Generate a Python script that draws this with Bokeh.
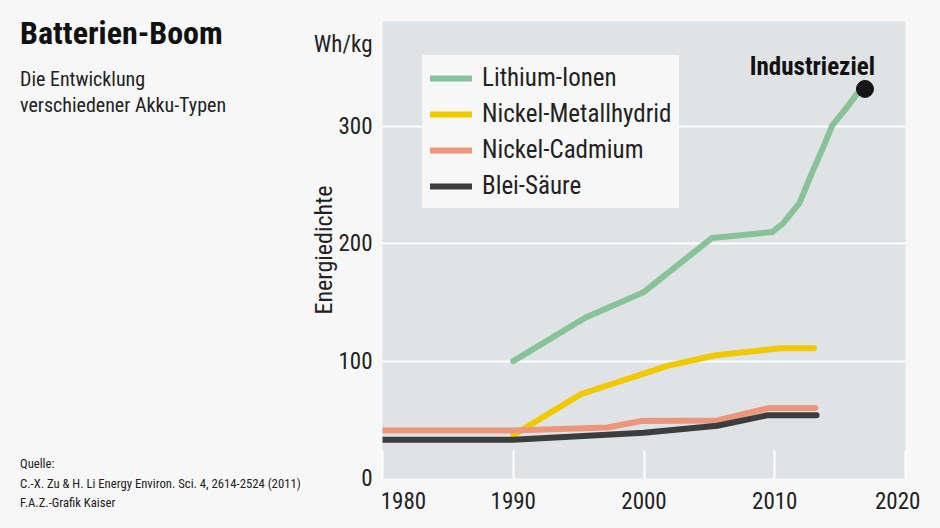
from bokeh.plotting import figure
from bokeh.models import Label, FixedTicker, Range1d, CustomJSTickFormatter, LinearAxis, Div
from bokeh.layouts import row
from bokeh.embed import file_html
from bokeh.resources import INLINE
import html as htmlmod

# ---------------- data ----------------
series_names = ["Lithium-Ionen", "Nickel-Metallhydrid", "Nickel-Cadmium", "Blei-Säure"]

li_years = [1990, 1995.5, 2000, 2005.2, 2009.8, 2010.6, 2011.9, 2012.9, 2013.7, 2014.4, 2015.5, 2016.3, 2016.9]
li_vals = [100, 137, 159, 205, 210, 217, 235, 262, 282, 301, 316, 328, 332]

nimh_years = [1990, 1995.2, 2001.8, 2005.5, 2010.4, 2013]
nimh_vals = [37, 72, 96, 105, 111, 111]

nicd_years = [1980, 1990, 1997.2, 1999.8, 2005.6, 2009.5, 2013.1]
nicd_vals = [41, 41, 43.5, 49, 49.5, 60, 60]

pb_years = [1980, 1990, 2000, 2005.6, 2009.5, 2013.2]
pb_vals = [33, 33, 39, 45, 54, 54]

target_year = [2016.9]
target_val = [332]

x_ticks = [1980, 1990, 2000, 2010, 2020]
y_ticks = [0, 100, 200, 300]

title_text = "Batterien-Boom"
subtitle_lines = ["Die Entwicklung", "verschiedener Akku-Typen"]
source_lines = ["Quelle:", "C.-X. Zu & H. Li Energy Environ. Sci. 4, 2614-2524 (2011)", "F.A.Z.-Grafik Kaiser"]
unit_text = "Wh/kg"
y_label_text = "Energiedichte"
target_text = "Industrieziel"

colors = ["#88c297", "#f1c900", "#ec977b", "#3d3d3d"]

FONT = "Roboto Condensed"
BG = "#f7f7f7"
PLOT_BG = "#e0e3e6"
TXT = "#222222"

W, H = 940, 528
TEXT_W = 300

# ---------------- left text panel (title, subtitle, source) ----------------
def text_block(text, left, baseline, size, weight="normal", color=TXT):
    top = baseline - 0.84 * size  # line-height 1 -> baseline sits ~0.84em below the top
    return ('<div style="position:absolute;left:%dpx;top:%.1fpx;font-family:\'%s\';'
            'font-size:%.1fpx;font-weight:%s;line-height:1;color:%s;white-space:nowrap">%s</div>'
            % (left, top, FONT, size, weight, color, htmlmod.escape(text)))

parts = [text_block(title_text, 20, 44, 32, "bold", "#111111")]
for i, line in enumerate(subtitle_lines):
    parts.append(text_block(line, 20, 86 + 26 * i, 20))
for i, line in enumerate(source_lines):
    parts.append(text_block(line, 20, 469 + 19.5 * i, 12.7))

left_panel = Div(text='<div style="position:relative;width:%dpx;height:%dpx;background:%s">%s</div>'
                 % (TEXT_W, H, BG, "".join(parts)),
                 width=TEXT_W, height=H, styles={"background-color": BG, "margin": "0", "padding": "0"})

# ---------------- main chart ----------------
p = figure(width=W - TEXT_W, height=H, output_backend="svg", toolbar_location=None,
           x_range=Range1d(1980, 2020), y_range=Range1d(0, 389.5),
           min_border_left=382 - TEXT_W, min_border_right=35, min_border_top=21, min_border_bottom=50)
p.background_fill_color = PLOT_BG
p.border_fill_color = BG
p.outline_line_color = None

p.xgrid.grid_line_color = None
p.ygrid.grid_line_color = "white"
p.ygrid.grid_line_width = 2
p.ygrid.ticker = FixedTicker(ticks=y_ticks)

# axis 1: short white tick marks reaching into the plot area, no labels
p.xaxis.ticker = FixedTicker(ticks=x_ticks)
p.xaxis.axis_line_color = None
p.xaxis.major_tick_in = 28
p.xaxis.major_tick_out = 0
p.xaxis.major_tick_line_color = "white"
p.xaxis.major_tick_line_width = 2
p.xaxis.minor_tick_line_color = None
p.xaxis.major_label_text_font_size = "0px"
p.xaxis.major_label_standoff = 0
p.xaxis.formatter = CustomJSTickFormatter(code="return '';")

# axis 2: year labels, the outer ones kept near the plot's edges
x_label_pos = [min(max(v, x_ticks[0] + 1.6), x_ticks[-1] - 0.6) for v in x_ticks]
lab_axis = LinearAxis(ticker=FixedTicker(ticks=x_label_pos),
                      formatter=CustomJSTickFormatter(code="return String(Math.round(tick / 10) * 10);"))
lab_axis.axis_line_color = None
lab_axis.major_tick_line_color = None
lab_axis.minor_tick_line_color = None
lab_axis.major_label_text_font = FONT
lab_axis.major_label_text_font_size = "23px"
lab_axis.major_label_text_color = TXT
lab_axis.major_label_standoff = 7
p.add_layout(lab_axis, "below")

# y axis: numbers plus the unit as top label
unit_pos = 370
p.yaxis.ticker = FixedTicker(ticks=y_ticks + [unit_pos])
p.yaxis.major_label_overrides = {unit_pos: unit_text}
p.yaxis.axis_line_color = None
p.yaxis.major_tick_line_color = None
p.yaxis.minor_tick_line_color = None
p.yaxis.major_label_text_font = FONT
p.yaxis.major_label_text_font_size = "23px"
p.yaxis.major_label_text_color = TXT
p.yaxis.major_label_standoff = 4
p.yaxis.axis_label = y_label_text
p.yaxis.axis_label_text_font = FONT
p.yaxis.axis_label_text_font_size = "24px"
p.yaxis.axis_label_text_font_style = "normal"
p.yaxis.axis_label_text_color = TXT
p.yaxis.axis_label_standoff = -27

data = [(li_years, li_vals), (nimh_years, nimh_vals), (nicd_years, nicd_vals), (pb_years, pb_vals)]
for (xs, ys), name, c in zip(data, series_names, colors):
    p.line(xs, ys, line_color=c, line_width=6, line_cap="round", line_join="round",
           legend_label=name)

p.scatter(target_year, target_val, size=17, color="#151515")

LEG_BG = "#f7f7f7"
lg = p.legend[0]
lg.location = (40, 270)
lg.background_fill_color = LEG_BG
lg.background_fill_alpha = 1
lg.border_line_color = LEG_BG
lg.border_line_width = 1
lg.padding = 7
lg.label_text_font = FONT
lg.label_text_font_size = "25px"
lg.label_text_color = TXT
lg.glyph_width = 42
lg.glyph_height = 28
lg.label_height = 28
lg.label_standoff = 10
lg.spacing = 7
lg.margin = 0

p.add_layout(Label(text=target_text, x=target_year[0], y=target_val[0],
                   text_font=FONT, text_font_size="25px", text_font_style="bold",
                   text_align="right", text_baseline="alphabetic", text_color="#111111",
                   x_offset=10, y_offset=22))

layout = row(left_panel, p)
html = file_html(layout, INLINE)
html = html.replace("<body>", '<body style="background:%s">' % BG)
open("out.html", "w").write(html)
